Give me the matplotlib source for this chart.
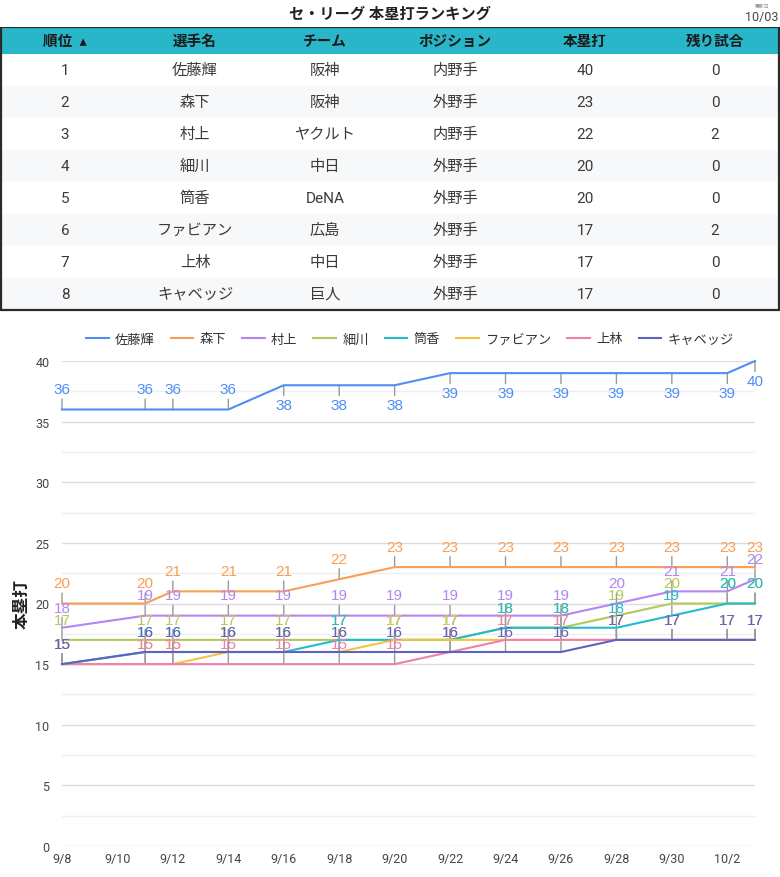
import numpy as np
import pandas as pd
import matplotlib
matplotlib.use("Agg")
import matplotlib.pyplot as plt
from matplotlib.patches import Rectangle

plt.rcParams['font.family'] = ['Roboto', 'Noto Sans CJK JP', 'DejaVu Sans']

# table data
ranks = [1, 2, 3, 4, 5, 6, 7, 8]
players = ['佐藤輝', '森下', '村上', '細川', '筒香', 'ファビアン', '上林', 'キャベッジ']
teams = ['阪神', '阪神', 'ヤクルト', '中日', 'DeNA', '広島', '中日', '巨人']
positions = ['内野手', '外野手', '内野手', '外野手', '外野手', '外野手', '外野手', '外野手']
homeruns = [40, 23, 22, 20, 20, 17, 17, 17]
remaining = [0, 0, 2, 0, 0, 2, 0, 0]
headers = ['順位  ▴', '選手名', 'チーム', 'ポジション', '本塁打', '残り試合']

# chart data
dates = ['9/8', '9/11', '9/12', '9/14', '9/16', '9/18', '9/20',
         '9/22', '9/24', '9/26', '9/28', '9/30', '10/2', '10/3']
sato = [36, 36, 36, 36, 38, 38, 38, 39, 39, 39, 39, 39, 39, 40]
morishita = [20, 20, 21, 21, 21, 22, 23, 23, 23, 23, 23, 23, 23, 23]
murakami = [18, 19, 19, 19, 19, 19, 19, 19, 19, 19, 20, 21, 21, 22]
hosokawa = [17, 17, 17, 17, 17, 17, 17, 17, 18, 18, 19, 20, 20, 20]
tsutsugo = [15, 16, 16, 16, 16, 17, 17, 17, 18, 18, 18, 19, 20, 20]
fabian = [15, 15, 15, 16, 16, 16, 17, 17, 17, 17, 17, 17, 17, 17]
kambayashi = [15, 15, 15, 15, 15, 15, 15, 16, 17, 17, 17, 17, 17, 17]
cavan = [15, 16, 16, 16, 16, 16, 16, 16, 16, 16, 17, 17, 17, 17]
series = [sato, morishita, murakami, hosokawa, tsutsugo, fabian, kambayashi, cavan]
colors = ['#4f8ef5', '#f89e55', '#b486f2', '#b4c85c', '#22bccc',
          '#f4c33f', '#f07fb0', '#5f63c0']
# where the labels of the top series sit (True = below the point)
sato_below = [False] * 4 + [True] * 10

x = pd.to_datetime(['2025/' + d for d in dates])

fig = plt.figure(figsize=(7.8, 8.78), dpi=100)
W, H = 780, 878

# ---- title
fig.text(390 / W, 1 - 14 / H, 'セ・リーグ 本塁打ランキング', ha='center', va='center',
         fontsize=11, fontweight='bold', color='#222')
fig.text(762 / W, 1 - 6 / H, '更新日', ha='center', va='center', fontsize=3.5, color='#888')
fig.text(762 / W, 1 - 18 / H, '10/03', ha='center', va='center', fontsize=9, color='#444')

# ---- table
ax_t = fig.add_axes([0, 1 - 314 / H, 1, 286 / H])
ax_t.set_xlim(0, W)
ax_t.set_ylim(314, 28)
ax_t.axis('off')
col_x = [65, 195, 325, 455, 585, 715]
head_top, head_h, row_h = 29, 26, 32
ax_t.add_patch(Rectangle((0, head_top), W, head_h, color='#29b6c9', lw=0))
for j, h in enumerate(headers):
    ax_t.text(col_x[j], head_top + head_h / 2, h, ha='center', va='center',
              fontsize=10.5, fontweight='bold', color='#1a1a1a')
rows = list(zip(ranks, players, teams, positions, homeruns, remaining))
for i, row in enumerate(rows):
    top = head_top + head_h + i * row_h
    ax_t.add_patch(Rectangle((0, top), W, row_h,
                             color='#ffffff' if i % 2 == 0 else '#f7f8fa', lw=0))
    for j, v in enumerate(row):
        ax_t.text(col_x[j], top + row_h / 2, str(v), ha='center', va='center',
                  fontsize=11, color='#3a3a3a')
bottom = head_top + head_h + len(rows) * row_h
ax_t.add_patch(Rectangle((1, head_top - 1), W - 2, bottom - head_top + 1,
                         fill=False, ec='#2a2a2a', lw=1.6))

# ---- line chart
ax = fig.add_axes([62 / W, 1 - 847 / H, (755 - 62) / W, (847 - 362) / H])
for k, (name, vals, c) in enumerate(zip(players, series, colors)):
    ax.plot(x, vals, color=c, lw=1.5, label=name, zorder=2 + k * 0.01, clip_on=False)

for k, (vals, c) in enumerate(zip(series, colors)):
    for i, (xi, v) in enumerate(zip(x, vals)):
        below = k == 0 and sato_below[i]
        sgn = -1 if below else 1
        ax.annotate('', xy=(xi, v), xytext=(0, sgn * 7.5), textcoords='offset points',
                    arrowprops=dict(arrowstyle='-', color='#9a9a9a', lw=1,
                                    shrinkA=0, shrinkB=0),
                    zorder=1.5, annotation_clip=False)
        ax.annotate(str(v), xy=(xi, v), xytext=(0, sgn * 14.5), textcoords='offset points',
                    ha='center', va='center', fontsize=11, color=c,
                    family=['Liberation Sans'],
                    zorder=3 + k * 0.01, annotation_clip=False)

ax.set_xlim(x[0], x[-1])
ax.set_ylim(0, 40)
ax.set_yticks(np.arange(0, 41, 5))
ax.set_yticks(np.arange(2.5, 40, 5), minor=True)
ticks = pd.date_range(x[0], pd.Timestamp('2025-10-02'), freq='2D')
ax.set_xticks(ticks)
ax.set_xticklabels([f'{t.month}/{t.day}' for t in ticks])
ax.grid(axis='y', which='major', color='#dcdcdc', lw=1)
ax.grid(axis='y', which='minor', color='#efefef', lw=1)
ax.set_axisbelow(True)
for s in ax.spines.values():
    s.set_visible(False)
ax.tick_params(axis='both', which='both', length=0, labelsize=9, labelcolor='#444')
ax.tick_params(axis='y', pad=9)
ax.tick_params(axis='x', pad=4)
ax.set_ylabel('本塁打', fontsize=12, fontweight='bold', color='#222', labelpad=4)

fig.legend(loc='center', bbox_to_anchor=(410 / W, 1 - 340 / H), ncol=8, frameon=False,
           fontsize=9.5, handlelength=1.7, columnspacing=1.2, handletextpad=0.5,
           labelcolor='#333')

fig.savefig('out.png', dpi=100)
